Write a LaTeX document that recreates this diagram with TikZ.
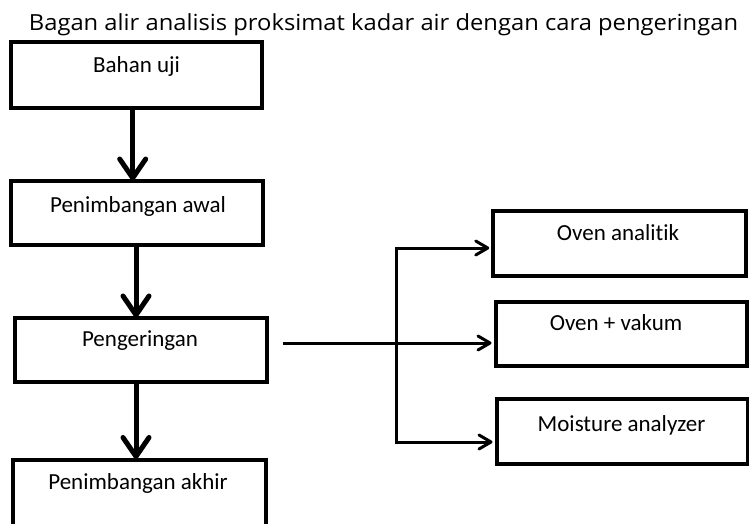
\documentclass[tikz,border=0pt]{standalone}
\usepackage{fontspec}
\setmainfont{Carlito}[Ligatures=NoCommon]
\newfontfamily\titlefont{Open Sans}
\usetikzlibrary{arrows.meta}
\begin{document}
\begin{tikzpicture}[x=1pt,y=-1pt,
  box/.style={draw, line width=4pt, rectangle, inner sep=0pt},
  bigarrow/.style={line width=5pt, -{Straight Barb[length=19pt,width=26pt,round]}},
  smallarrow/.style={line width=3pt, -{Straight Barb[length=12pt,width=14pt,round]}},
  link/.style={line width=3pt},
  txt/.style={font=\fontsize{23}{27}\selectfont, anchor=base, inner sep=0pt}
]
\useasboundingbox (0,0) rectangle (749,524);
\clip (0,0) rectangle (749,524);
\fill[white] (0,0) rectangle (749,524);

\node[anchor=base, inner sep=0pt, font=\titlefont\fontsize{22.2}{26}\selectfont] (title) at (383.5,30.7) {\scalebox{1.07}[1]{Bagan alir analisis proksimat kadar air dengan cara pengeringan}};

\node[box, minimum width=251.7pt, minimum height=66pt] (bahan) at (136.6,75.5) {};
\node[box, minimum width=252pt, minimum height=64pt] (awal) at (136.5,213) {};
\node[box, minimum width=252pt, minimum height=64pt] (kering) at (141,350) {};
\node[box, minimum width=253pt, minimum height=80.5pt] (akhir) at (139,499.75) {};
\node[box, minimum width=252.5pt, minimum height=65pt] (oven) at (619.5,243.5) {};
\node[box, minimum width=251pt, minimum height=64.5pt] (vakum) at (621,333.75) {};
\node[box, minimum width=251pt, minimum height=65pt] (moist) at (622,431.5) {};

\node[txt] (t-bahan) at ([yshift=-32.5pt]bahan.north) {Bahan uji};
\node[txt] (t-awal) at ([xshift=1.5pt, yshift=-33pt]awal.north) {Penimbangan awal};
\node[txt] (t-kering) at ([xshift=-1pt, yshift=-30pt]kering.north) {Pengeringan};
\node[txt] (t-akhir) at ([xshift=-1pt, yshift=-32pt]akhir.north) {Penimbangan akhir};
\node[txt] (t-oven) at ([xshift=-1.5pt, yshift=-31pt]oven.north) {Oven analitik};
\node[txt] (t-vakum) at ([xshift=-5pt, yshift=-30.5pt]vakum.north) {Oven + vakum};
\node[txt] (t-moist) at ([xshift=-0.5pt, yshift=-34pt]moist.north) {Moisture analyzer};

\coordinate (xa) at (132.7,0);
\coordinate (xb) at (136,0);
\coordinate (xc) at (136,0);
\draw[bigarrow] (bahan.south -| xa) -- ([yshift=-1.5pt]awal.north -| xa);
\draw[bigarrow] (awal.south -| xb) -- ([yshift=-1.5pt]kering.north -| xb);
\draw[bigarrow] (kering.south -| xc) -- ([yshift=-1.5pt]akhir.north -| xc);

\coordinate (start) at (283,343);
\coordinate (split) at (396.5,343);
\coordinate (ytop) at (0,248);
\coordinate (ybot) at (0,442);
\draw[smallarrow] (start) -- ([xshift=-2pt]vakum.west |- start);
\draw[link, line cap=butt] (split |- ytop) -- (split |- ybot);
\draw[smallarrow] ([xshift=-1.5pt]split |- ytop) -- ([xshift=-2pt]oven.west |- ytop);
\draw[smallarrow] ([xshift=-1.5pt]split |- ybot) -- ([xshift=-2pt]moist.west |- ybot);
\end{tikzpicture}
\end{document}
